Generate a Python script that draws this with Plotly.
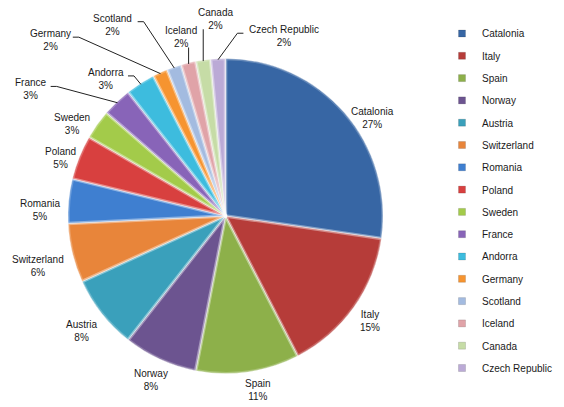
import math
import plotly.graph_objects as go

# ---- data ----
countries = ["Catalonia", "Italy", "Spain", "Norway", "Austria", "Switzerland",
             "Romania", "Poland", "Sweden", "France", "Andorra", "Germany",
             "Scotland", "Iceland", "Canada", "Czech Republic"]
counts = [18, 10, 7, 5, 5, 4, 3, 3, 2, 2, 2, 1, 1, 1, 1, 1]

# ---- style ----
colors = ["#3766A4", "#B63C39", "#8DB04A", "#6C5490", "#3AA0BB", "#E8853A",
          "#3F7FD0", "#D8403F", "#A3CB4A", "#8864B8", "#3DBCDE", "#F69430",
          "#A3BBE0", "#E0A3A8", "#C6DCA6", "#BBAAD6"]
# label placement: (angle nudge in degrees, distance from centre in px, leader line?)
label_place = {
    "Catalonia": (7.3, 177, False), "Italy": (0.5, 179, False),
    "Spain": (-2.4, 177, False), "Norway": (-0.1, 180, False),
    "Austria": (-0.5, 184, False), "Switzerland": (-1.3, 194, False),
    "Romania": (-3.6, 186, False), "Poland": (-2.5, 175, False),
    "Sweden": (-4.5, 179, False), "France": (-13.3, 232, True),
    "Andorra": (-8.4, 182, True), "Germany": (-20.3, 248, True),
    "Scotland": (-11.4, 222, True), "Iceland": (-0.4, 184, True),
    "Canada": (5.2, 197, True), "Czech Republic": (20.7, 189, True),
}
FONT = "Liberation Sans, Arial, sans-serif"
W, H = 564, 407
cx, cy, r = 225.5, 216, 157.5


def px(x, y):
    return x / W, 1 - y / H


dom = dict(x=[(cx - r) / W, (cx + r) / W], y=[(H - cy - r) / H, (H - cy + r) / H])

fig = go.Figure(go.Pie(
    labels=countries, values=counts, sort=False, direction="clockwise", rotation=0,
    marker=dict(colors=colors, line=dict(color="rgba(255,255,255,0.5)", width=0.8)),
    textinfo="none", showlegend=False, hoverinfo="label+percent", domain=dom,
))
# soft bevel: lighter seams between slices
fig.add_trace(go.Pie(
    labels=countries, values=counts, sort=False, direction="clockwise", rotation=0,
    marker=dict(colors=["rgba(0,0,0,0)"] * len(counts),
                line=dict(color="rgba(255,255,255,0.22)", width=3.5)),
    textinfo="none", showlegend=False, hoverinfo="skip", domain=dom,
))

# legend entries (one per slice)
for name, col in zip(countries, colors):
    fig.add_trace(go.Scatter(x=[None], y=[None], mode="markers", name=name,
                             legendgroup=name,
                             marker=dict(symbol="square", size=7, color=col,
                                         line=dict(color="rgba(0,0,0,0.25)", width=0.5))))

total = sum(counts)
cum = 0
annotations, shapes = [], []
for name, v in zip(countries, counts):
    mid = (cum + v / 2) / total * 360
    cum += v
    nudge, dist, leader = label_place[name]
    a = math.radians(mid + nudge)
    lx, ly = cx + dist * math.sin(a), cy - dist * math.cos(a)
    pct = round(100 * v / total)
    text = f"{name}<br>{pct}%"
    xp, yp = px(lx, ly)
    annotations.append(dict(x=xp, y=yp, xref="paper", yref="paper", text=text,
                            showarrow=False, xanchor="center", yanchor="middle",
                            font=dict(family=FONT, size=10, color="#1a1a1a")))
    if leader:
        am = math.radians(mid)
        ex, ey = cx + (r - 1) * math.sin(am), cy - (r - 1) * math.cos(am)
        hw = len(name) * 2.6
        if abs(ex - lx) > hw:
            side = 1 if ex > lx else -1
            sx, sy = lx + side * (hw + 4), ly - 3
            path_pts = [(sx, sy), (sx + side * 6, sy), (ex, ey)]
        else:
            sx, sy = ex, ly + 10
            path_pts = [(sx, sy), (ex, ey)]
        d = "M " + " L ".join(f"{px(x, y)[0]:.5f},{px(x, y)[1]:.5f}" for x, y in path_pts)
        shapes.append(dict(type="path", path=d, xref="paper", yref="paper",
                           line=dict(color="#222", width=1)))

fig.update_layout(
    width=W, height=H, margin=dict(l=0, r=0, t=0, b=0),
    paper_bgcolor="white", plot_bgcolor="white",
    xaxis=dict(visible=False), yaxis=dict(visible=False),
    annotations=annotations, shapes=shapes,
    showlegend=True,
    legend=dict(x=442 / W, y=1 - 19 / H, xanchor="left", yanchor="top",
                font=dict(family=FONT, size=10, color="#1a1a1a"),
                tracegroupgap=3.3, traceorder="grouped", bgcolor="rgba(0,0,0,0)"),
)
fig.write_html("out.html", config={"displayModeBar": False},
               post_script="document.body.style.margin='0';")
